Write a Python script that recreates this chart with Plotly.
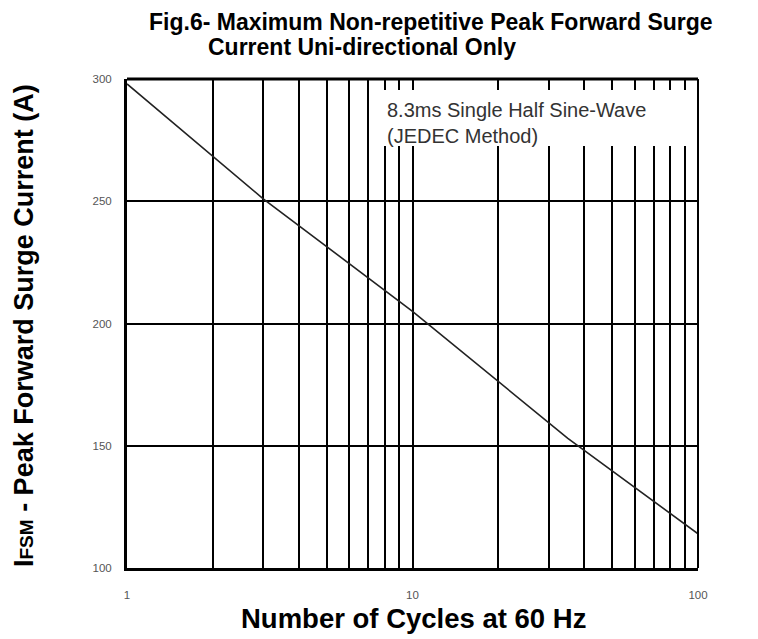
import plotly.graph_objects as go

# ---- data ----
cycles = [1, 3, 10, 35, 100, 112]
surge_current = [298, 251, 205, 153, 114, 110]

x_grid_vals = [1, 2, 3, 4, 5, 6, 7, 8, 9, 10, 20, 30, 40, 50, 60, 70, 80, 90, 100]
x_tick_text = ["1", "", "", "", "", "", "", "", "", "10", "", "", "", "", "", "", "", "", "100"]
y_tick_vals = [100, 150, 200, 250, 300]
y_tick_text = ["100", "150", "200", "250", "300"]

title_line1 = "Fig.6- Maximum Non-repetitive Peak Forward Surge"
title_line2 = "Current Uni-directional Only"
note_text = "8.3ms Single Half Sine-Wave<br>(JEDEC Method)"
x_title = "Number of Cycles at 60 Hz"
y_title = "I<span style='font-size:19px'>FSM</span> - Peak Forward Surge Current (A)"

# page has an 8px body margin; lay out in page pixels and convert
OFF = 8
PAGE_W, PAGE_H = 758, 639
W, H = PAGE_W - OFF, PAGE_H - OFF
PL, PR, PT, PB = 127, 698, 79, 568  # plot box in page pixels
L, T = PL - OFF, PT - OFF
R, B = W - (PR - OFF), H - (PB - OFF)
pw, ph = PR - PL, PB - PT


def px(x):
    return (x - PL) / pw


def py(y):
    return (PB - y) / ph


FONT = "Liberation Sans, Arial, sans-serif"

fig = go.Figure()
fig.add_trace(go.Scatter(
    x=cycles, y=surge_current, mode="lines",
    line=dict(color="#222222", width=1.6),
    cliponaxis=False, showlegend=False, hoverinfo="skip",
))

tickfont = dict(family=FONT, size=11.5, color="#555555")

fig.update_xaxes(
    type="log", range=[0, 2],
    tickmode="array", tickvals=x_grid_vals, ticktext=x_tick_text,
    showgrid=True, gridcolor="black", gridwidth=1.5,
    showline=True, linecolor="black", linewidth=3, mirror=False,
    ticks="", ticklabelstandoff=14, tickfont=tickfont,
    zeroline=False,
)
fig.update_yaxes(
    range=[100, 300],
    tickmode="array", tickvals=y_tick_vals, ticktext=y_tick_text,
    showgrid=True, gridcolor="black", gridwidth=1.5,
    showline=True, linecolor="black", linewidth=3, mirror=False,
    ticks="", ticklabelstandoff=10, tickfont=tickfont,
    zeroline=False,
)

shapes = [
    dict(type="line", xref="paper", yref="paper", x0=0, x1=1, y0=1, y1=1,
         line=dict(color="black", width=3), layer="above"),
    dict(type="line", xref="paper", yref="paper", x0=1, x1=1, y0=0, y1=1,
         line=dict(color="black", width=2), layer="above"),
    dict(type="rect", xref="paper", yref="paper",
         x0=px(379), x1=px(696), y0=py(146), y1=py(90),
         fillcolor="white", line=dict(width=0), layer="above"),
]

annotations = [
    dict(text="<b>" + title_line1 + "</b>", xref="paper", yref="paper", x=px(147), y=py(21.5),
         xanchor="left", yanchor="middle", showarrow=False,
         font=dict(family=FONT, size=23, color="black")),
    dict(text="<b>" + title_line2 + "</b>", xref="paper", yref="paper", x=px(206), y=py(47),
         xanchor="left", yanchor="middle", showarrow=False,
         font=dict(family=FONT, size=23, color="black")),
    dict(text=note_text, xref="paper", yref="paper", x=px(385), y=py(123),
         xanchor="left", yanchor="middle", align="left", showarrow=False,
         font=dict(family=FONT, size=20, color="#333333")),
    dict(text="<b>" + x_title + "</b>", xref="paper", yref="paper", x=px(413), y=py(618),
         xanchor="center", yanchor="middle", showarrow=False,
         font=dict(family=FONT, size=27.5, color="black")),
    dict(text="<b>" + y_title + "</b>", xref="paper", yref="paper", x=px(24), y=py(326),
         xanchor="center", yanchor="middle", showarrow=False, textangle=-90,
         font=dict(family=FONT, size=27, color="black")),
]

fig.update_layout(
    width=W, height=H,
    margin=dict(l=L, r=R, t=T, b=B, pad=0),
    paper_bgcolor="white", plot_bgcolor="white",
    shapes=shapes, annotations=annotations,
    showlegend=False,
)

fig.write_html("out.html")
